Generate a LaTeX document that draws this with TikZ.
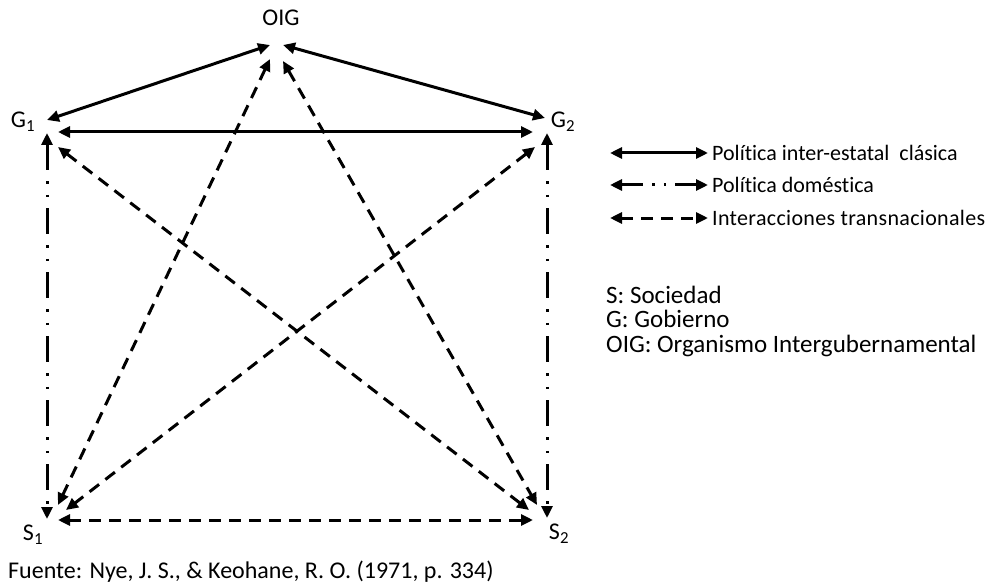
\documentclass[tikz,border=0pt]{standalone}
\usepackage{fontspec}
\setmainfont{Carlito}[Ligatures=NoCommon]
\usetikzlibrary{arrows.meta}

\begin{document}
\begin{tikzpicture}[x=1pt,y=-1pt,
  lbl/.style={inner sep=0pt, font=\fontsize{24}{28}\selectfont},
  legtxt/.style={inner sep=0pt, anchor=west, font=\fontsize{22}{26}\selectfont},
  keytxt/.style={inner sep=0pt, anchor=west, align=left,
    font=\fontsize{25}{24.5}\selectfont},
  conn/.style={line width=3pt,
    {Triangle[length=12pt,width=11pt]}-{Triangle[length=12pt,width=11pt]}},
  solidline/.style={conn},
  domline/.style={conn, dash pattern=on 26pt off 11pt on 2.5pt off 11pt on 2.5pt off 11pt},
  transline/.style={conn, dash pattern=on 12pt off 8pt},
]
\path[use as bounding box] (0,0) rectangle (995,588);

% actor labels
\node[lbl] (oig) at (281,18) {OIG};
\node[lbl] (g1) at (23,122) {G\textsubscript{1}};
\node[lbl] (g2) at (563,122) {G\textsubscript{2}};
\node[lbl] (s1) at (33,535) {S\textsubscript{1}};
\node[lbl] (s2) at (559,534) {S\textsubscript{2}};

% connector end points around each actor
\coordinate (oigL)  at (270,45);
\coordinate (oigR)  at (283,45);
\coordinate (oigLL) at (270,59);
\coordinate (oigRR) at (283,61);

\coordinate (g1a) at (47,120);
\coordinate (g1b) at (58,132);
\coordinate (g1c) at (47,133);
\coordinate (g1d) at (58,147);

\coordinate (g2a) at (545,118);
\coordinate (g2b) at (533,132);
\coordinate (g2c) at (547,133);
\coordinate (g2d) at (535,147);

\coordinate (s1a) at (47,519);
\coordinate (s1b) at (58,520);
\coordinate (s1c) at (58,505);
\coordinate (s1d) at (66,510);

\coordinate (s2a) at (547,518);
\coordinate (s2b) at (533,520);
\coordinate (s2c) at (537,505);
\coordinate (s2d) at (529,510);

% classic inter-state politics
\draw[solidline] (g1a) -- (oigL);
\draw[solidline] (g2a) -- (oigR);
\draw[solidline] (g1b) -- (g2b);

% domestic politics
\draw[domline] (g1c) -- (s1a);
\draw[domline] (g2c) -- (s2a);

% transnational interactions
\draw[transline] (s1b) -- (s2b);
\draw[transline] (oigLL) -- (s1c);
\draw[transline] (oigRR) -- (s2c);
\draw[transline] (g1d) -- (s2d);
\draw[transline] (g2d) -- (s1d);

% legend
\coordinate (l1a) at (610,153); \coordinate (l1b) at (708,153);
\coordinate (l2a) at (610,185); \coordinate (l2b) at (708,185);
\coordinate (l3a) at (610,218); \coordinate (l3b) at (708,218);
\draw[solidline] (l1a) -- (l1b);
\draw[conn, dash pattern=on 22pt off 9pt on 2.5pt off 9pt on 2.5pt off 9pt on 40pt] (l2a) -- (l2b);
\draw[transline] (l3a) -- (l3b);
\node[legtxt] (t1) at (712,153) {Política inter-estatal\ \ clásica};
\node[legtxt] (t2) at (712,185) {Política doméstica};
\node[legtxt] (t3) at (712,218) {\addfontfeature{LetterSpace=1.5}Interacciones transnacionales};

% abbreviations
\node[keytxt] (key) at (606,321) {S: Sociedad\\G: Gobierno\\OIG: Organismo Intergubernamental};

% source
\node[lbl, anchor=west] (src) at (8,572) {Fuente: Nye, J. S., \& Keohane, R. O. (1971, p. 334)};
\end{tikzpicture}
\end{document}
